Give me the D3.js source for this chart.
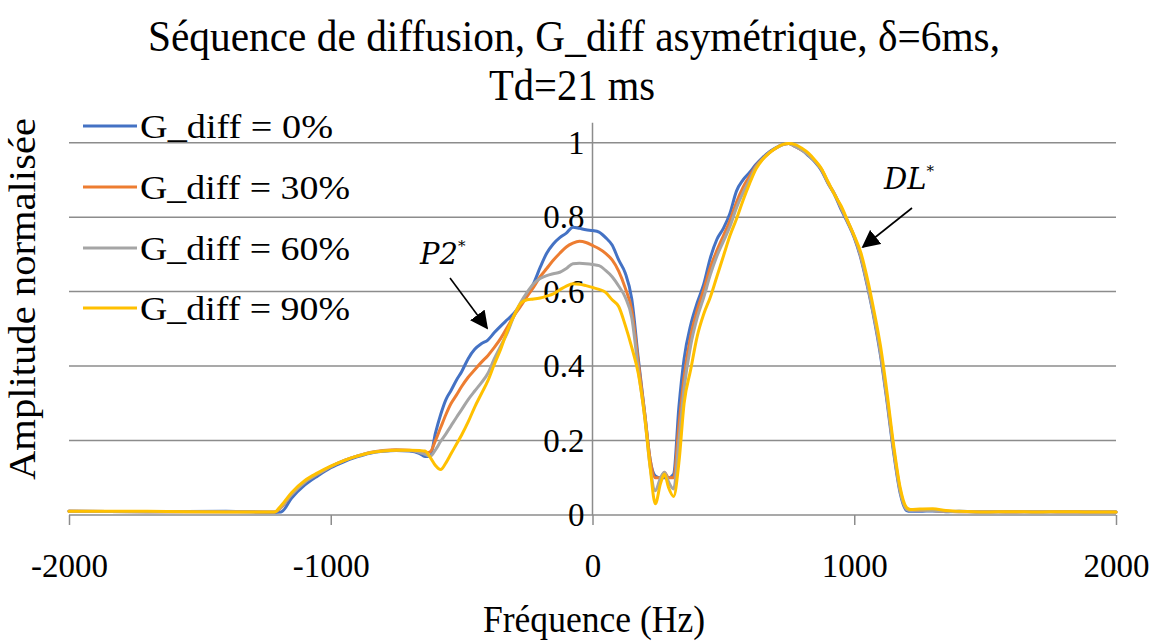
<!DOCTYPE html>
<html><head><meta charset="utf-8">
<script src="https://cdn.jsdelivr.net/npm/d3@7"></script>
<style>html,body{margin:0;padding:0;background:#fff;} svg{display:block;}</style>
</head><body>
<svg id="chart" width="1160" height="641"></svg>
<script>
const freq = [-2000,-1700,-1400,-1215,-1190,-1150,-1100,-1050,-1000,-950,-900,-850,-800,-750,-700,-660,-640,-620,-600,-580,-560,-540,-520,-500,-475,-450,-425,-400,-375,-350,-325,-300,-275,-250,-225,-200,-175,-150,-125,-100,-75,-50,-25,0,25,50,75,100,125,150,175,200,220,240,260,275,290,310,330,350,375,400,425,450,475,500,525,550,575,600,625,650,675,700,725,750,775,800,825,850,875,900,925,950,975,1000,1025,1050,1075,1100,1125,1150,1175,1200,1215,1250,1300,1350,1400,1500,1600,1700,1800,1900,2000];

const g0 = [0.01,0.009,0.01,0.007,0.008,0.045,0.08,0.105,0.127,0.143,0.156,0.166,0.171,0.173,0.172,0.165,0.157,0.158,0.22,0.27,0.31,0.335,0.362,0.385,0.42,0.445,0.46,0.47,0.49,0.508,0.525,0.542,0.565,0.592,0.622,0.665,0.703,0.728,0.745,0.757,0.773,0.77,0.766,0.764,0.76,0.745,0.725,0.685,0.65,0.58,0.42,0.27,0.15,0.105,0.1,0.1,0.1,0.11,0.29,0.42,0.51,0.57,0.62,0.69,0.74,0.77,0.81,0.87,0.9,0.92,0.942,0.96,0.975,0.986,0.995,0.998,0.99,0.98,0.965,0.948,0.925,0.89,0.86,0.82,0.785,0.745,0.69,0.615,0.53,0.43,0.305,0.17,0.06,0.012,0.01,0.01,0.011,0.009,0.01,0.008,0.009,0.008,0.009,0.008,0.008];

const g30 = [0.01,0.009,0.009,0.008,0.02,0.055,0.088,0.11,0.13,0.146,0.158,0.168,0.173,0.175,0.174,0.17,0.166,0.17,0.2,0.235,0.27,0.3,0.322,0.345,0.37,0.39,0.41,0.428,0.45,0.475,0.505,0.535,0.56,0.587,0.612,0.64,0.662,0.684,0.703,0.72,0.73,0.735,0.732,0.724,0.715,0.703,0.685,0.655,0.61,0.55,0.41,0.27,0.15,0.1,0.1,0.115,0.1,0.1,0.24,0.37,0.48,0.55,0.605,0.665,0.71,0.75,0.79,0.84,0.88,0.91,0.938,0.957,0.973,0.985,0.994,0.998,0.99,0.98,0.968,0.95,0.928,0.892,0.862,0.825,0.788,0.748,0.695,0.622,0.538,0.44,0.315,0.18,0.068,0.016,0.013,0.012,0.012,0.01,0.009,0.009,0.008,0.009,0.008,0.008,0.008];

const g60 = [0.01,0.009,0.009,0.008,0.022,0.055,0.088,0.11,0.13,0.146,0.158,0.167,0.172,0.174,0.173,0.168,0.163,0.158,0.175,0.198,0.218,0.24,0.262,0.283,0.31,0.333,0.355,0.38,0.42,0.455,0.49,0.535,0.57,0.598,0.621,0.635,0.643,0.648,0.652,0.662,0.675,0.676,0.675,0.673,0.67,0.657,0.64,0.615,0.585,0.53,0.39,0.26,0.13,0.065,0.1,0.115,0.09,0.07,0.2,0.34,0.455,0.53,0.585,0.645,0.695,0.735,0.775,0.825,0.865,0.9,0.935,0.956,0.973,0.985,0.994,0.998,0.99,0.98,0.967,0.95,0.928,0.892,0.862,0.825,0.788,0.748,0.695,0.62,0.535,0.437,0.312,0.177,0.065,0.015,0.012,0.013,0.012,0.01,0.009,0.009,0.008,0.009,0.008,0.008,0.008];

const g90 = [0.01,0.01,0.008,0.008,0.025,0.06,0.092,0.113,0.131,0.146,0.158,0.167,0.172,0.174,0.174,0.173,0.172,0.155,0.133,0.122,0.14,0.165,0.19,0.215,0.25,0.29,0.325,0.36,0.405,0.447,0.495,0.535,0.568,0.578,0.58,0.583,0.588,0.594,0.605,0.615,0.621,0.62,0.616,0.611,0.606,0.598,0.578,0.56,0.51,0.45,0.38,0.26,0.13,0.03,0.085,0.11,0.075,0.05,0.14,0.3,0.39,0.48,0.54,0.585,0.64,0.695,0.75,0.795,0.845,0.89,0.93,0.955,0.972,0.985,0.995,0.998,0.995,0.985,0.972,0.953,0.93,0.895,0.86,0.83,0.79,0.75,0.705,0.635,0.55,0.455,0.33,0.19,0.075,0.02,0.015,0.016,0.017,0.012,0.01,0.008,0.009,0.008,0.009,0.008,0.008];

const seriesNames = ["G_diff = 0%","G_diff = 30%","G_diff = 60%","G_diff = 90%"];
const seriesColors = ["#4472C4","#ED7D31","#A5A5A5","#FFC000"];
const seriesValues = [g0,g30,g60,g90];
const xTicks = [-2000,-1000,0,1000,2000];
const xTickLabels = ["-2000","-1000","0","1000","2000"];
const yTicks = [0,0.2,0.4,0.6,0.8,1];
const yTickLabels = ["0","0.2","0.4","0.6","0.8","1"];

const svg = d3.select("#chart");
const x = d3.scaleLinear().domain([-2000,2000]).range([69,1116]);
const y = d3.scaleLinear().domain([0,1]).range([515,142.7]);
const serif = "'Liberation Serif','Times New Roman',serif";
const gridColor = "#8c8c8c";

// gridlines
svg.append("g").selectAll("line").data(yTicks).join("line")
  .attr("x1", x(-2000)).attr("x2", x(2000))
  .attr("y1", d=>y(d)).attr("y2", d=>y(d))
  .attr("stroke", gridColor).attr("stroke-width", 1.5);

// vertical axis line at x=0
svg.append("line").attr("x1", x(0)).attr("x2", x(0)).attr("y1", y(1)-20).attr("y2", y(0))
  .attr("stroke", gridColor).attr("stroke-width", 1.5);

// x axis
const xAxis = svg.append("g").attr("transform", `translate(0,${y(0)})`)
  .call(d3.axisBottom(x).tickValues(xTicks).tickSize(10).tickSizeOuter(0).tickPadding(29)
    .tickFormat((d,i)=>xTickLabels[i]));
xAxis.select(".domain").remove();
xAxis.selectAll(".tick line").attr("stroke", gridColor).attr("stroke-width", 1.5);
xAxis.selectAll(".tick text").attr("font-family", serif).attr("font-size", 33).attr("fill", "#000");

// y axis labels
const yAxis = svg.append("g").attr("transform", `translate(${x(0)},0)`)
  .call(d3.axisLeft(y).tickValues(yTicks).tickSize(0).tickPadding(8).tickFormat((d,i)=>yTickLabels[i]));
yAxis.select(".domain").remove();
yAxis.selectAll(".tick text").attr("font-family", serif).attr("font-size", 33).attr("fill", "#000");

// lines
const line = d3.line().x((d,i)=>x(freq[i])).y(d=>y(d)).curve(d3.curveMonotoneX);
svg.append("g").selectAll("path").data(seriesValues).join("path")
  .attr("d", d=>line(d)).attr("fill","none")
  .attr("stroke",(d,i)=>seriesColors[i]).attr("stroke-width",3)
  .attr("stroke-linejoin","round").attr("stroke-linecap","round");

// title
svg.append("text").attr("x", 574).attr("y", 51).attr("text-anchor","middle")
  .attr("font-family", serif).attr("font-size", 44)
  .attr("textLength", 852).attr("lengthAdjust","spacingAndGlyphs")
  .text("Séquence de diffusion, G_diff asymétrique, δ=6ms,");
svg.append("text").attr("x", 572).attr("y", 100).attr("text-anchor","middle")
  .attr("font-family", serif).attr("font-size", 44)
  .attr("textLength", 166).attr("lengthAdjust","spacingAndGlyphs")
  .text("Td=21 ms");

// axis titles
svg.append("text").attr("x", 594).attr("y", 632).attr("text-anchor","middle")
  .attr("font-family", serif).attr("font-size", 37)
  .attr("textLength", 222).attr("lengthAdjust","spacingAndGlyphs")
  .text("Fréquence (Hz)");
svg.append("text").attr("transform","translate(35,299) rotate(-90)").attr("text-anchor","middle")
  .attr("font-family", serif).attr("font-size", 37)
  .attr("textLength", 362).attr("lengthAdjust","spacingAndGlyphs")
  .text("Amplitude normalisée");

// legend
const legendY = [126,187,248,308];
const leg = svg.append("g").selectAll("g").data(seriesNames).join("g")
  .attr("transform",(d,i)=>`translate(0,${legendY[i]})`);
leg.append("line").attr("x1",83).attr("x2",137).attr("y1",0).attr("y2",0)
  .attr("stroke",(d,i)=>seriesColors[i]).attr("stroke-width",3);
leg.append("text").attr("x",140).attr("y",12).attr("font-family",serif).attr("font-size",34)
  .attr("textLength",(d,i)=> i===0 ? 193 : 210).attr("lengthAdjust","spacingAndGlyphs")
  .text(d=>d);

// annotations
const defs = svg.append("defs");
defs.append("marker").attr("id","arr").attr("viewBox","0 0 10 10").attr("refX",9).attr("refY",5)
  .attr("markerWidth",18).attr("markerHeight",18).attr("markerUnits","userSpaceOnUse")
  .attr("orient","auto")
  .append("path").attr("d","M0,0 L10,5 L0,10 Z").attr("fill","#000");

function annot(label, tx, ty, x1, y1, x2, y2){
  const t = svg.append("text").attr("x",tx).attr("y",ty).attr("font-family","'DejaVu Serif','Liberation Serif',serif")
    .attr("font-style","italic").attr("font-size",29);
  t.append("tspan").text(label);
  t.append("tspan").attr("font-size",15).attr("dy",-13).text("*");
  svg.append("line").attr("x1",x1).attr("y1",y1).attr("x2",x2).attr("y2",y2)
    .attr("stroke","#000").attr("stroke-width",1.6).attr("marker-end","url(#arr)");
}
annot("P2", 420, 264, 450, 278, 487, 328);
annot("DL", 884, 189, 912, 208, 863, 247);
</script>
</body></html>
